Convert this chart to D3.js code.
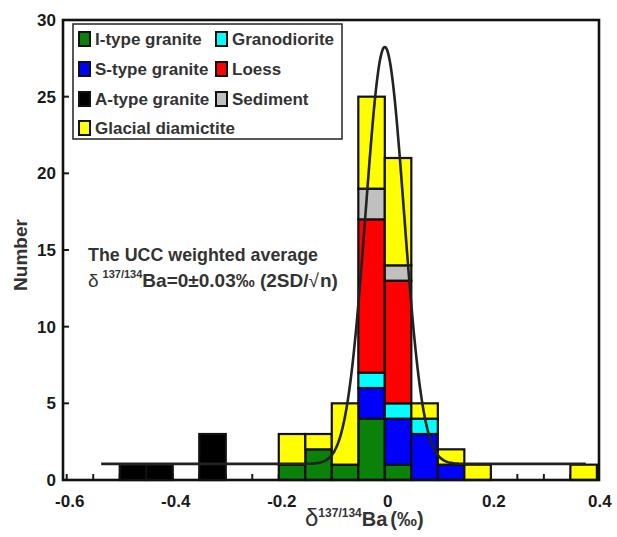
<!DOCTYPE html>
<html>
<head>
<meta charset="utf-8">
<script src="https://cdn.jsdelivr.net/npm/d3@7"></script>
<style>
  html, body { margin: 0; padding: 0; background: #fff; }
  svg { display: block; font-family: "Liberation Sans", Arial, sans-serif; }
</style>
</head>
<body>
<svg id="chart" width="617" height="537"></svg>
<script>
// Histogram bins (left edge, width 0.05 ‰) and counts per rock type
const binStart = [-0.5, -0.45, -0.35, -0.2, -0.15, -0.1, -0.05, 0, 0.05, 0.1, 0.15, 0.35];
const binWidth = 0.05;
const iType      = [0, 0, 0, 1, 2, 1, 4, 1, 0, 0, 0, 0];
const sType      = [0, 0, 0, 0, 0, 0, 2, 3, 3, 1, 0, 0];
const aType      = [1, 1, 3, 0, 0, 0, 0, 0, 0, 0, 0, 0];
const granodior  = [0, 0, 0, 0, 0, 0, 1, 1, 1, 0, 0, 0];
const loess      = [0, 0, 0, 0, 0, 0, 10, 8, 0, 0, 0, 0];
const sediment   = [0, 0, 0, 0, 0, 0, 2, 1, 0, 0, 0, 0];
const glacial    = [0, 0, 0, 2, 1, 4, 6, 7, 1, 1, 1, 1];

const seriesNames = ["I-type granite", "S-type granite", "A-type granite", "Granodiorite", "Loess", "Sediment", "Glacial diamictite"];
const seriesValues = [iType, sType, aType, granodior, loess, sediment, glacial];
const seriesColors = ["#0a820a", "#0000ff", "#000000", "#00ffff", "#ff0000", "#c0c0c0", "#ffff00"];

const xTicks = [-0.6, -0.4, -0.2, 0, 0.2, 0.4];
const xTickLabels = ["-0.6", "-0.4", "-0.2", "0", "0.2", "0.4"];
const yTicks = [0, 5, 10, 15, 20, 25, 30];

// Fitted normal curve over the UCC values
const fit = { mean: 0, sd: 0.036, peak: 27.2, base: 1.05, from: -0.535, to: 0.38 };

const svg = d3.select("#chart");
const x = d3.scaleLinear().domain([-0.607, 0.404]).range([63, 599]);
const y = d3.scaleLinear().domain([0, 30]).range([480, 20]);
const ink = "#1a1a1a";

// inward minor ticks every 0.05 on x, majors on y
const minor = d3.range(-0.6, 0.401, 0.05).map(v => +v.toFixed(2));
svg.append("g").selectAll("line").data(minor).join("line")
  .attr("x1", d => x(d)).attr("x2", d => x(d))
  .attr("y1", y(0)).attr("y2", y(0) - 6)
  .attr("stroke", ink).attr("stroke-width", 2);
svg.append("g").selectAll("line").data(yTicks).join("line")
  .attr("x1", x.range()[0]).attr("x2", x.range()[0] + 6)
  .attr("y1", d => y(d)).attr("y2", d => y(d))
  .attr("stroke", ink).attr("stroke-width", 2);

// stacked bars
const rows = binStart.map((b, i) => {
  const r = { bin: b };
  seriesNames.forEach((n, k) => r[n] = seriesValues[k][i]);
  return r;
});
const stack = d3.stack().keys(seriesNames)(rows);
stack.forEach((layer, k) => {
  svg.append("g").selectAll("rect")
    .data(layer.filter(d => d[1] > d[0]))
    .join("rect")
    .attr("x", d => x(d.data.bin))
    .attr("width", d => x(d.data.bin + binWidth) - x(d.data.bin))
    .attr("y", d => y(d[1]))
    .attr("height", d => y(d[0]) - y(d[1]))
    .attr("fill", seriesColors[k])
    .attr("stroke", "#111").attr("stroke-width", 2.2);
});

// normal fit curve
const curvePts = d3.range(fit.from, fit.to + 1e-9, 0.002).map(v => [v,
  fit.base + fit.peak * Math.exp(-0.5 * Math.pow((v - fit.mean) / fit.sd, 2))]);
svg.append("path")
  .attr("d", d3.line().x(d => x(d[0])).y(d => y(d[1])).curve(d3.curveBasis)(curvePts))
  .attr("fill", "none").attr("stroke", "#222").attr("stroke-width", 2.6);

// plot frame
svg.append("rect")
  .attr("x", x.range()[0]).attr("y", y(30))
  .attr("width", x.range()[1] - x.range()[0]).attr("height", y(0) - y(30))
  .attr("fill", "none").attr("stroke", "#111").attr("stroke-width", 2.6);

// tick labels
svg.append("g").selectAll("text").data(xTicks).join("text")
  .attr("x", (d, i) => x(d) + 3).attr("y", 507)
  .attr("text-anchor", "middle")
  .attr("font-size", 17).attr("font-weight", "bold").attr("fill", ink)
  .text((d, i) => xTickLabels[i]);
svg.append("g").selectAll("text").data(yTicks).join("text")
  .attr("x", 56).attr("y", d => y(d) + 6)
  .attr("text-anchor", "end")
  .attr("font-size", 17).attr("font-weight", "bold").attr("fill", ink)
  .text(d => d);

// axis titles
svg.append("text")
  .attr("transform", "translate(27,255) rotate(-90)")
  .attr("text-anchor", "middle")
  .attr("font-size", 19).attr("font-weight", "bold").attr("fill", "#333")
  .text("Number");

const xt = svg.append("text").attr("x", 305).attr("y", 526)
  .attr("font-size", 20).attr("font-weight", "bold").attr("fill", "#333");
xt.append("tspan").attr("font-weight", "normal").attr("font-size", 24).text("δ");
xt.append("tspan").attr("dy", -9).attr("font-size", 12).text("137/134");
xt.append("tspan").attr("dy", 9).text("Ba");
xt.append("tspan").attr("dx", 3).text("(‰)");

// annotation
svg.append("text").attr("x", 88).attr("y", 261)
  .attr("font-size", 19).attr("font-weight", "bold").attr("fill", "#333")
  .attr("textLength", 230).attr("lengthAdjust", "spacingAndGlyphs")
  .text("The UCC  weighted average");
const an = svg.append("text").attr("x", 88).attr("y", 287)
  .attr("font-size", 19).attr("font-weight", "bold").attr("fill", "#333");
an.append("tspan").attr("font-weight", "normal").text("δ");
an.append("tspan").attr("dx", 4).attr("dy", -9).attr("font-size", 11).text("137/134");
an.append("tspan").attr("dy", 9).text("Ba=0±0.03‰ (2SD/");
an.append("tspan").attr("font-weight", "normal").text("√");
an.append("tspan").attr("dx", 1).text("n)");

// legend
const lg = svg.append("g");
lg.append("rect").attr("x", 73).attr("y", 24).attr("width", 269).attr("height", 115)
  .attr("fill", "#fff").attr("stroke", "#222").attr("stroke-width", 1.5);
const legendPos = [
  [0, 0], [0, 1], [0, 2], [1, 0], [1, 1], [1, 2], [0, 3]
];
const colX = [79, 216];
const rowY = [39, 69, 99, 128];
seriesNames.forEach((n, k) => {
  const [c, r] = legendPos[k];
  lg.append("rect").attr("x", colX[c]).attr("y", rowY[r] - 7).attr("width", 11).attr("height", 14)
    .attr("fill", seriesColors[k]).attr("stroke", "#111").attr("stroke-width", 2);
  lg.append("text").attr("x", colX[c] + 16).attr("y", rowY[r] + 6)
    .attr("font-size", 17).attr("font-weight", "bold").attr("fill", "#333")
    .text(n);
});
</script>
</body>
</html>
